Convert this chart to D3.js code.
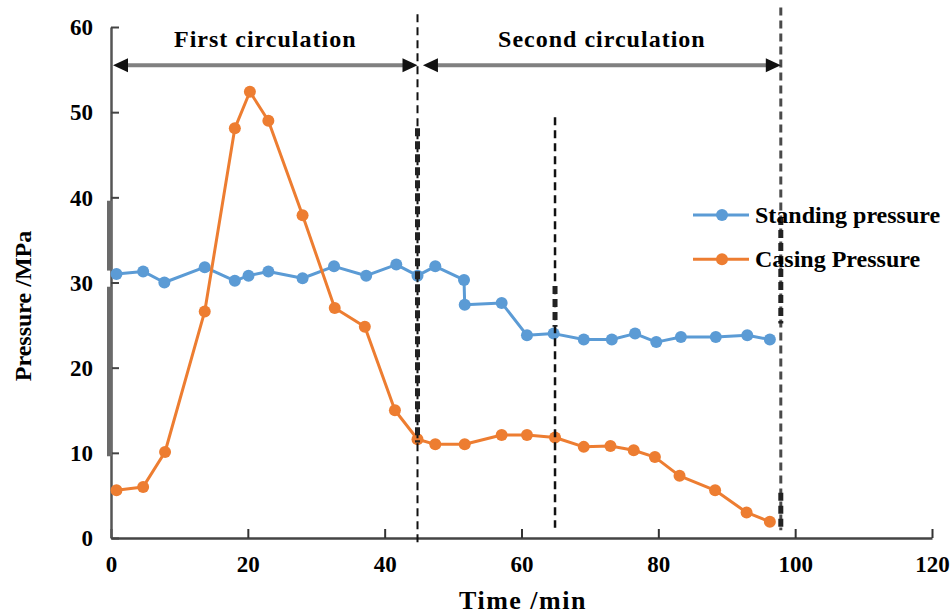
<!DOCTYPE html>
<html><head><meta charset="utf-8">
<script src="https://cdn.jsdelivr.net/npm/d3@7"></script>
<style>
body{margin:0;background:#fff}
svg{display:block}
text{font-family:"Liberation Serif","Times New Roman",serif;font-weight:bold;fill:#000}
</style>
</head><body>
<svg id="c" width="951" height="616"></svg>
<script>
// ---- data ----
const standingTime = [0.8, 4.7, 7.8, 13.7, 18.1, 20.1, 23.0, 28.0, 32.6, 37.3, 41.7, 44.8, 47.4, 51.6, 51.7, 57.1, 60.8, 64.7, 69.1, 73.2, 76.6, 79.7, 83.3, 88.4, 93.0, 96.3];
const standingPressure = [31.0, 31.3, 30.0, 31.8, 30.2, 30.8, 31.3, 30.5, 31.9, 30.8, 32.1, 30.8, 31.9, 30.3, 27.4, 27.6, 23.8, 24.0, 23.3, 23.3, 24.0, 23.0, 23.6, 23.6, 23.8, 23.3];
const casingTime = [0.8, 4.7, 7.9, 13.7, 18.1, 20.3, 23.0, 28.0, 32.7, 37.1, 41.5, 44.8, 47.4, 51.7, 57.1, 60.8, 64.9, 69.1, 73.0, 76.4, 79.5, 83.1, 88.3, 92.9, 96.3];
const casingPressure = [5.6, 6.0, 10.1, 26.6, 48.1, 52.4, 49.0, 37.9, 27.0, 24.8, 15.0, 11.6, 11.0, 11.0, 12.1, 12.1, 11.8, 10.7, 10.8, 10.3, 9.5, 7.3, 5.6, 3.0, 1.9];
const xTicks = [0, 20, 40, 60, 80, 100, 120];
const yTicks = [0, 10, 20, 30, 40, 50, 60];
const seriesNames = ["Standing pressure", "Casing Pressure"];
const seriesColors = ["#5B9BD5", "#ED7D31"];
const circulationNames = ["First circulation", "Second circulation"];
const circulationStart = [0, 45.3];
const circulationEnd = [44.8, 97.9];
const markerTimes = [44.8, 64.9, 97.9];

const svg = d3.select("#c");
const x = d3.scaleLinear().domain([0, 120]).range([111, 932]);
const y = d3.scaleLinear().domain([0, 60]).range([538, 27]);

// axes
const gx = svg.append("g").attr("transform", "translate(0,538)")
  .call(d3.axisBottom(x).tickValues(xTicks).tickSizeInner(-9).tickSizeOuter(0).tickPadding(18))
  .attr("font-size", 23);
gx.select(".domain").attr("stroke", "#444").attr("stroke-width", 2.5);
gx.selectAll(".tick line").attr("stroke", "#333").attr("stroke-width", 2);

const gy = svg.append("g").attr("transform", "translate(111,0)")
  .call(d3.axisLeft(y).tickValues(yTicks).tickSizeInner(-8).tickSizeOuter(0).tickPadding(18))
  .attr("font-size", 23);
gy.select(".domain").attr("stroke", "#555").attr("stroke-width", 2.5);
gy.selectAll(".tick line").attr("stroke", "#444").attr("stroke-width", 2);
gy.selectAll(".tick text").attr("dy", "0.34em");

// thicker segments on the y axis (as in the reference)
[[39.6, 31.4], [29.5, 9.6]].forEach(s => {
  svg.append("line").attr("x1", 109.5).attr("x2", 109.5)
    .attr("y1", y(s[0])).attr("y2", y(s[1]))
    .attr("stroke", "#6a6a6a").attr("stroke-width", 5);
});

// axis titles
svg.append("text").attr("transform", "translate(31,306) rotate(-90)")
  .attr("text-anchor", "middle").attr("font-size", 24).text("Pressure /MPa");
svg.append("text").attr("x", 523).attr("y", 609)
  .attr("text-anchor", "middle").attr("font-size", 26).attr("letter-spacing", 1.5).text("Time /min");

// series
const series = [
  standingTime.map((t, i) => ({t, v: standingPressure[i]})),
  casingTime.map((t, i) => ({t, v: casingPressure[i]}))
];
const line = d3.line().x(d => x(d.t)).y(d => y(d.v));
series.forEach((s, k) => {
  svg.append("path").datum(s).attr("d", line)
    .attr("fill", "none").attr("stroke", seriesColors[k]).attr("stroke-width", 3)
    .attr("stroke-linejoin", "round");
  svg.append("g").selectAll("circle").data(s).join("circle")
    .attr("cx", d => x(d.t)).attr("cy", d => y(d.v)).attr("r", 6)
    .attr("fill", seriesColors[k]);
});

// dashed vertical markers
const vLines = [
  {t: markerTimes[0], top: 61.5, bottom: -0.6, w: 2, color: "#111", heavy: [[48.1, 11.2]]},
  {t: markerTimes[1], top: 49.4, bottom: 1.2, w: 2.5, color: "#111", heavy: [[29.6, 24.8]]},
  {t: markerTimes[2], top: 62.3, bottom: 0.9, w: 3, color: "#4a4a4a", heavy: [[37.7, 25.2], [5.3, 0.9]]}
];
vLines.forEach(L => {
  svg.append("line").attr("x1", x(L.t)).attr("x2", x(L.t))
    .attr("y1", y(L.top)).attr("y2", y(L.bottom))
    .attr("stroke", L.color).attr("stroke-width", L.w).attr("stroke-dasharray", "8,5");
  L.heavy.forEach(h => {
    svg.append("line").attr("x1", x(L.t)).attr("x2", x(L.t))
      .attr("y1", y(h[0])).attr("y2", y(h[1]))
      .attr("stroke", "#222").attr("stroke-width", 5).attr("stroke-dasharray", "8,5");
  });
});

// circulation arrows
const arrowY = y(55.5);
circulationNames.forEach((name, i) => {
  const x0 = x(circulationStart[i]) + 2, x1 = x(circulationEnd[i]);
  svg.append("line").attr("x1", x0 + 6).attr("x2", x1 - 6).attr("y1", arrowY).attr("y2", arrowY)
    .attr("stroke", "#808080").attr("stroke-width", 4);
  svg.append("path").attr("d", `M${x0},${arrowY}L${x0 + 15},${arrowY - 7}L${x0 + 15},${arrowY + 7}Z`).attr("fill", "#111");
  svg.append("path").attr("d", `M${x1},${arrowY}L${x1 - 15},${arrowY - 7}L${x1 - 15},${arrowY + 7}Z`).attr("fill", "#111");
  svg.append("text").attr("x", (x0 + x1) / 2).attr("y", 46.5)
    .attr("text-anchor", "middle").attr("font-size", 24).attr("letter-spacing", 1).text(name);
});

// legend
seriesNames.forEach((name, i) => {
  const ly = 215 + i * 44.3;
  svg.append("line").attr("x1", 693).attr("x2", 749).attr("y1", ly).attr("y2", ly)
    .attr("stroke", seriesColors[i]).attr("stroke-width", 3);
  svg.append("circle").attr("cx", 722).attr("cy", ly).attr("r", 6).attr("fill", seriesColors[i]);
  svg.append("text").attr("x", 755).attr("y", ly).attr("dy", "0.32em")
    .attr("font-size", 24).text(name);
});
</script>
</body></html>
